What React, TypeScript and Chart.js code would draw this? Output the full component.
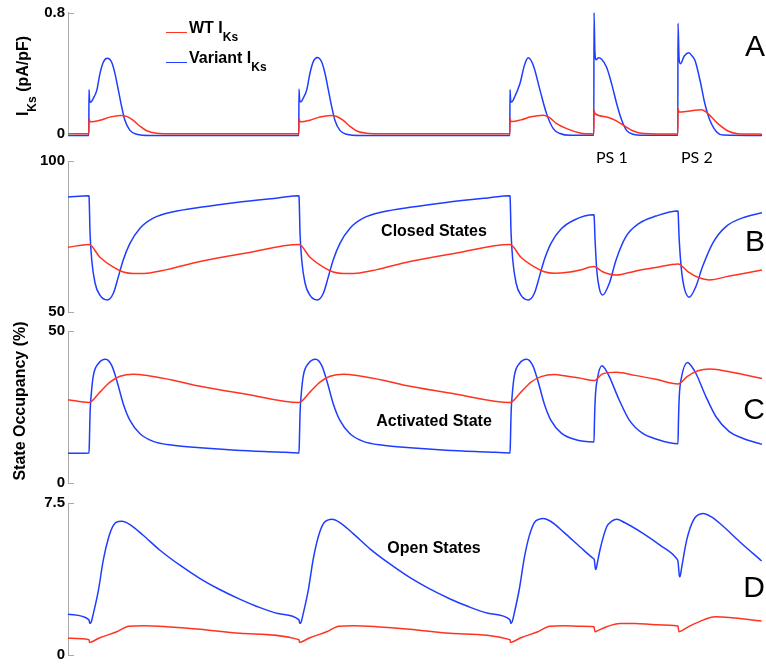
import React, { useEffect, useRef } from "react";
import { Chart, registerables } from "chart.js";

Chart.register(...registerables);

type Pt = [number, number];

// ---------------- DATA (time in ms) ----------------
// Panel A: I_Ks (pA/pF)
const wtIks: Pt[] = [
  [0, 0.003], [99, 0.003], [100, 0.103], [104, 0.085], [111, 0.082], [152, 0.092], [200, 0.113], [248, 0.124], [279, 0.118], [311, 0.092], [343, 0.053], [375, 0.023], [422, 0.007], [500, 0.003],
  [1099, 0.003], [1100, 0.104], [1104, 0.086], [1111, 0.082], [1152, 0.093], [1200, 0.114], [1250, 0.124], [1280, 0.117], [1311, 0.091], [1343, 0.052], [1375, 0.022], [1422, 0.007], [1500, 0.003],
  [2104, 0.003], [2105, 0.103], [2109, 0.087], [2116, 0.084], [2157, 0.095], [2205, 0.115], [2263, 0.125], [2290, 0.113], [2327, 0.07], [2375, 0.037], [2438, 0.009], [2504, 0.003],
  [2505, 0.157], [2510, 0.136], [2565, 0.114], [2613, 0.087], [2644, 0.061], [2692, 0.022], [2740, 0.006], [2904, 0.002],
  [2905, 0.168], [2910, 0.146], [2945, 0.15], [2978, 0.157], [3016, 0.162], [3030, 0.155], [3048, 0.136], [3095, 0.07], [3143, 0.022], [3190, 0.004], [3305, 0.001],
];
const variantIks: Pt[] = [
  [0, -0.008], [99, -0.008], [100, 0.293], [103, 0.225], [108, 0.21], [120, 0.235], [137, 0.289], [152, 0.398], [168, 0.474], [187, 0.5], [208, 0.474], [224, 0.398], [240, 0.289], [256, 0.179], [271, 0.092], [295, 0.026], [327, 0.0], [390, -0.008],
  [1099, -0.008], [1100, 0.296], [1103, 0.228], [1108, 0.212], [1120, 0.237], [1137, 0.292], [1152, 0.4], [1168, 0.478], [1187, 0.505], [1208, 0.476], [1224, 0.4], [1240, 0.29], [1256, 0.18], [1271, 0.093], [1295, 0.026], [1327, 0.0], [1390, -0.008],
  [2104, -0.008], [2105, 0.293], [2108, 0.225], [2113, 0.212], [2125, 0.24], [2152, 0.332], [2175, 0.46], [2192, 0.503], [2216, 0.452], [2248, 0.289], [2279, 0.136], [2311, 0.037], [2343, 0.005], [2390, -0.007],
  [2504, -0.007], [2505, 0.8], [2509, 0.55], [2515, 0.49], [2527, 0.503], [2541, 0.494], [2565, 0.441], [2589, 0.332], [2613, 0.201], [2637, 0.092], [2660, 0.026], [2692, 0.0], [2740, -0.007],
  [2904, -0.007], [2905, 0.731], [2910, 0.5], [2916, 0.464], [2935, 0.515], [2957, 0.536], [2972, 0.515], [2986, 0.485], [3010, 0.354], [3033, 0.201], [3057, 0.092], [3089, 0.015], [3120, -0.005], [3305, -0.008],
];

// Panel B: closed states (%)
const wtClosed: Pt[] = [
  [0, 71.5], [100, 72.4], [152, 68.2], [216, 64.9], [263, 63.3], [311, 62.8], [375, 62.9], [470, 64.1], [629, 66.8], [850, 69.6], [1100, 72.4],
  [1152, 68.2], [1216, 64.9], [1263, 63.3], [1311, 62.8], [1375, 62.9], [1470, 64.1], [1629, 66.8], [1850, 69.6], [2105, 72.4],
  [2157, 68.2], [2221, 65.0], [2268, 63.4], [2316, 62.9], [2380, 63.2], [2440, 64.0], [2505, 65.1],
  [2546, 63.4], [2610, 62.3], [2700, 63.6], [2800, 64.8], [2905, 66.0],
  [2955, 63.3], [3005, 61.4], [3054, 60.7], [3150, 62.0], [3230, 63.0], [3305, 64.0],
];
const variantClosed: Pt[] = [
  [0, 88.1], [99, 88.5], [100, 88.4], [105, 76.1], [113, 67.3], [129, 59.6], [152, 55.7], [187, 54.1], [216, 56.3], [240, 61.8], [263, 67.3], [295, 72.8], [343, 77.8], [406, 81.1], [501, 83.2], [629, 84.7], [800, 86.3], [1000, 87.8], [1099, 88.5],
  [1100, 88.4], [1105, 76.1], [1113, 67.3], [1129, 59.6], [1152, 55.7], [1187, 54.1], [1216, 56.3], [1240, 61.8], [1263, 67.3], [1295, 72.8], [1343, 77.8], [1406, 81.1], [1501, 83.2], [1629, 84.7], [1800, 86.3], [2000, 87.8], [2104, 88.5],
  [2105, 88.4], [2110, 76.1], [2118, 67.3], [2134, 59.6], [2157, 55.7], [2192, 54.1], [2221, 56.3], [2245, 61.8], [2268, 67.3], [2300, 72.8], [2348, 77.5], [2411, 80.5], [2504, 82.2],
  [2505, 82.1], [2510, 74], [2518, 64], [2530, 58], [2546, 55.7], [2578, 59.6], [2610, 67.3], [2657, 75.0], [2720, 79.4], [2800, 81.8], [2904, 83.5],
  [2905, 83.4], [2910, 75], [2920, 65], [2935, 58], [2959, 55.0], [2990, 58.5], [3022, 65.1], [3070, 72.8], [3133, 78.3], [3229, 81.6], [3305, 82.9],
];

// Panel C: activated state (%)
const wtActivated: Pt[] = [
  [0, 27.5], [100, 26.6], [152, 30.0], [200, 33.3], [248, 35.2], [311, 35.9], [390, 35.3], [501, 33.9], [629, 31.9], [850, 29.3], [1100, 26.6],
  [1152, 30.0], [1200, 33.3], [1248, 35.2], [1311, 35.9], [1390, 35.3], [1501, 33.9], [1629, 31.9], [1850, 29.3], [2105, 26.6],
  [2157, 30.0], [2205, 33.3], [2253, 35.1], [2316, 35.8], [2371, 35.3], [2440, 34.6], [2505, 33.8],
  [2546, 36.0], [2610, 36.5], [2700, 35.5], [2800, 34.2], [2905, 32.7],
  [2950, 35.2], [3000, 37.0], [3054, 37.6], [3110, 37.2], [3200, 36.0], [3305, 34.5],
];
const variantActivated: Pt[] = [
  [0, 9.9], [100, 10.0], [102, 14.1], [105, 22.9], [111, 29.5], [121, 35.5], [145, 39.4], [179, 40.8], [208, 38.8], [232, 33.9], [263, 26.2], [295, 20.7], [343, 16.3], [406, 13.8], [501, 12.5], [629, 11.7], [800, 10.9], [1000, 10.3], [1100, 10.0],
  [1102, 14.1], [1105, 22.9], [1111, 29.5], [1121, 35.5], [1145, 39.4], [1179, 40.8], [1208, 38.8], [1232, 33.9], [1263, 26.2], [1295, 20.7], [1343, 16.3], [1406, 13.8], [1501, 12.5], [1629, 11.7], [1800, 10.9], [2000, 10.3], [2105, 10.0],
  [2107, 14.1], [2110, 22.9], [2116, 29.5], [2126, 35.5], [2150, 39.4], [2184, 40.8], [2213, 38.8], [2237, 33.9], [2268, 26.2], [2300, 20.7], [2348, 16.6], [2411, 14.5], [2505, 13.6],
  [2507, 20], [2511, 28], [2520, 34], [2543, 38.7], [2560, 37.4], [2578, 35.1], [2625, 27.4], [2673, 20.8], [2737, 16.4], [2800, 14.6], [2905, 13.0],
  [2907, 20], [2911, 28.5], [2922, 35], [2951, 39.7], [2970, 38.4], [2990, 36.2], [3038, 28.5], [3086, 21.9], [3149, 17.0], [3213, 14.8], [3305, 12.8],
];

// Panel D: open states (%)
const wtOpen: Pt[] = [
  [0, 0.83], [99, 0.76], [100, 0.75], [103, 0.62], [110, 0.64], [152, 0.85], [232, 1.15], [290, 1.42], [358, 1.45], [470, 1.4], [629, 1.27], [820, 1.07], [1099, 0.76],
  [1100, 0.75], [1103, 0.62], [1110, 0.64], [1152, 0.85], [1232, 1.15], [1290, 1.42], [1358, 1.45], [1470, 1.4], [1629, 1.27], [1820, 1.07], [2104, 0.76],
  [2105, 0.75], [2108, 0.62], [2115, 0.64], [2157, 0.85], [2237, 1.15], [2295, 1.42], [2363, 1.45], [2440, 1.42], [2504, 1.4],
  [2505, 1.38], [2510, 1.15], [2516, 1.17], [2565, 1.4], [2629, 1.56], [2700, 1.56], [2800, 1.5], [2904, 1.43],
  [2905, 1.4], [2910, 1.15], [2916, 1.17], [2965, 1.45], [3030, 1.75], [3081, 1.89], [3150, 1.86], [3230, 1.77], [3303, 1.68],
];
const variantOpen: Pt[] = [
  [0, 2.02], [99, 1.75], [100, 1.73], [104, 1.56], [110, 1.62], [121, 2.06], [145, 3.21], [168, 4.69], [192, 5.76], [216, 6.41], [240, 6.6], [256, 6.61], [295, 6.45], [358, 5.92], [438, 5.18], [533, 4.44], [629, 3.78], [720, 3.25], [820, 2.75], [900, 2.4], [1000, 2.05], [1099, 1.75],
  [1100, 1.73], [1104, 1.56], [1110, 1.62], [1121, 2.08], [1145, 3.25], [1168, 4.75], [1192, 5.85], [1216, 6.5], [1240, 6.68], [1256, 6.71], [1295, 6.55], [1358, 6.0], [1438, 5.25], [1533, 4.5], [1629, 3.82], [1720, 3.28], [1820, 2.77], [1900, 2.42], [2000, 2.06], [2104, 1.75],
  [2105, 1.73], [2109, 1.56], [2115, 1.64], [2126, 2.1], [2150, 3.3], [2173, 4.8], [2197, 5.9], [2221, 6.55], [2245, 6.72], [2262, 6.75], [2300, 6.6], [2363, 6.05], [2443, 5.3], [2502, 4.77],
  [2506, 4.72], [2511, 4.3], [2514, 4.23], [2520, 4.5], [2533, 5.18], [2565, 6.33], [2590, 6.62], [2613, 6.71], [2650, 6.55], [2740, 6.0], [2819, 5.43], [2898, 4.77],
  [2905, 4.62], [2911, 3.95], [2914, 3.86], [2922, 4.3], [2946, 5.67], [2978, 6.66], [3025, 6.99], [3060, 6.85], [3105, 6.5], [3200, 5.59], [3303, 4.65],
];

// Axis ticks (only the range ends are labelled)
const yTicksA = [0, 0.8];
const yTickLabelsA = ["0", "0.8"];
const yTicksB = [50, 100];
const yTickLabelsB = ["50", "100"];
const yTicksC = [0, 50];
const yTickLabelsC = ["0", "50"];
const yTicksD = [0, 7.5];
const yTickLabelsD = ["0", "7.5"];
const xRange = [0, 3305];

const seriesNames = ["WT I", "Variant I"];
const panelLetters = ["A", "B", "C", "D"];
const stateLabels = ["Closed States", "Activated State", "Open States"];
const psLabels = ["PS 1", "PS 2"];

// ---------------- STYLE / LAYOUT ----------------
const FONT = '"Liberation Sans", Arial, Helvetica, sans-serif';
const RED = "#ff3321";
const BLUE = "#1f3dff";
const AXIS = "#a9a9a9";
const W = 766;
const AREA_LEFT = 68;
const AREA_RIGHT = 762;

const PANELS = [
  { top: 12.7, bottom: 134.3, ticks: yTicksA, labels: yTickLabelsA, wt: wtIks, variant: variantIks },
  { top: 161, bottom: 312.3, ticks: yTicksB, labels: yTickLabelsB, wt: wtClosed, variant: variantClosed },
  { top: 331.3, bottom: 483.3, ticks: yTicksC, labels: yTickLabelsC, wt: wtActivated, variant: variantActivated },
  { top: 503.3, bottom: 655, ticks: yTicksD, labels: yTickLabelsD, wt: wtOpen, variant: variantOpen },
];

const tickMarks = {
  id: "tickMarks",
  afterDraw(chart: any) {
    const s = chart.scales.y;
    const ctx = chart.ctx;
    ctx.save();
    ctx.strokeStyle = AXIS;
    ctx.lineWidth = 1;
    ctx.beginPath();
    s.ticks.forEach((t: any) => {
      const py = Math.round(s.getPixelForValue(t.value)) + 0.5;
      ctx.moveTo(s.right, py);
      ctx.lineTo(s.right + 6, py);
    });
    ctx.stroke();
    ctx.restore();
  },
};

function Panel({ cfg }: { cfg: (typeof PANELS)[number] }) {
  const ref = useRef<HTMLCanvasElement | null>(null);
  const ct = Math.floor(cfg.top) - 20;
  const H = Math.ceil(cfg.bottom) + 20 - ct;
  const padTop = cfg.top - ct;
  const padBottom = H - (cfg.bottom - ct);

  useEffect(() => {
    if (!ref.current) return;
    const mk = (pts: Pt[], color: string) => ({
      data: pts.map(([x, y]) => ({ x, y })),
      borderColor: color,
      backgroundColor: color,
      borderWidth: 1.5,
      pointRadius: 0,
      cubicInterpolationMode: "monotone" as const,
      clip: false as any,
      fill: false,
    });
    const chart = new Chart(ref.current, {
      type: "line",
      data: { datasets: [mk(cfg.wt, RED), mk(cfg.variant, BLUE)] },
      options: {
        animation: false,
        responsive: false,
        devicePixelRatio: 1,
        parsing: false as any,
        layout: { padding: { left: 0, right: W - AREA_RIGHT, top: padTop, bottom: padBottom } },
        plugins: { legend: { display: false }, tooltip: { enabled: false } },
        events: [],
        scales: {
          x: { type: "linear", min: xRange[0], max: xRange[1], display: false },
          y: {
            type: "linear",
            position: "left",
            min: cfg.ticks[0],
            max: cfg.ticks[cfg.ticks.length - 1],
            afterFit: (s: any) => {
              s.width = AREA_LEFT;
            },
            afterBuildTicks: (s: any) => {
              s.ticks = cfg.ticks.map((v) => ({ value: v }));
            },
            ticks: {
              autoSkip: false,
              padding: 3,
              color: "#000",
              font: { family: FONT, size: 15, weight: "bold" },
              callback: (_v: any, i: number) => cfg.labels[i],
            },
            grid: { display: false, drawTicks: false },
            border: { display: true, color: AXIS, width: 1 },
          },
        },
      },
      plugins: [tickMarks],
    });
    return () => chart.destroy();
  }, []);

  return (
    <canvas
      ref={ref}
      width={W}
      height={H}
      style={{ position: "absolute", left: 0, top: ct, width: W, height: H }}
    />
  );
}

const abs = (extra: React.CSSProperties): React.CSSProperties => ({
  position: "absolute",
  whiteSpace: "nowrap",
  lineHeight: 1,
  ...extra,
});

const sub: React.CSSProperties = { fontSize: 12, verticalAlign: "-8px", lineHeight: 0 };

export default function App() {
  return (
    <div style={{ position: "absolute", left: 0, top: 0, width: W, height: 669, background: "#fff", overflow: "hidden" }}>
      {PANELS.map((p, i) => (
        <Panel key={i} cfg={p} />
      ))}

      {/* y-axis titles */}
      <div
        style={abs({
          left: 23,
          top: 76,
          transform: "translate(-50%, -50%) rotate(-90deg)",
          font: `bold 16px ${FONT}`,
          color: "#000",
        })}
      >
        I<span style={sub}>Ks</span> (pA/pF)
      </div>
      <div
        style={abs({
          left: 20,
          top: 401,
          transform: "translate(-50%, -50%) rotate(-90deg)",
          font: `bold 16px ${FONT}`,
          color: "#000",
        })}
      >
        State Occupancy (%)
      </div>

      {/* legend */}
      <div style={abs({ left: 166, top: 31.5, width: 21, height: 0, borderTop: `1.5px solid ${RED}` })} />
      <div style={abs({ left: 189, top: 32.3 - 13.5, font: `bold 16px ${FONT}`, color: "#000" })}>
        {seriesNames[0]}
        <span style={sub}>Ks</span>
      </div>
      <div style={abs({ left: 166, top: 62, width: 21, height: 0, borderTop: `1.5px solid ${BLUE}` })} />
      <div style={abs({ left: 189, top: 62.7 - 13.5, font: `bold 16px ${FONT}`, color: "#000" })}>
        {seriesNames[1]}
        <span style={sub}>Ks</span>
      </div>

      {/* panel letters */}
      {[46, 240.5, 408.5, 586.5].map((cy, i) => (
        <div
          key={panelLetters[i]}
          style={abs({ left: 765, top: cy, transform: "translate(-100%, -50%)", font: `30px ${FONT}`, color: "#000" })}
        >
          {panelLetters[i]}
        </div>
      ))}

      {/* premature stimulus labels */}
      {[596, 681].map((x, i) => (
        <div key={psLabels[i]} style={abs({ left: x, top: 156, transform: "translate(0, -50%)", font: `16px Lato, ${FONT}`, color: "#000" })}>
          {psLabels[i]}
        </div>
      ))}

      {/* state labels */}
      {[231, 420.5, 547.5].map((cy, i) => (
        <div key={stateLabels[i]} style={abs({ left: 434, top: cy, transform: "translate(-50%, -50%)", font: `bold 16px ${FONT}`, color: "#000" })}>
          {stateLabels[i]}
        </div>
      ))}
    </div>
  );
}
